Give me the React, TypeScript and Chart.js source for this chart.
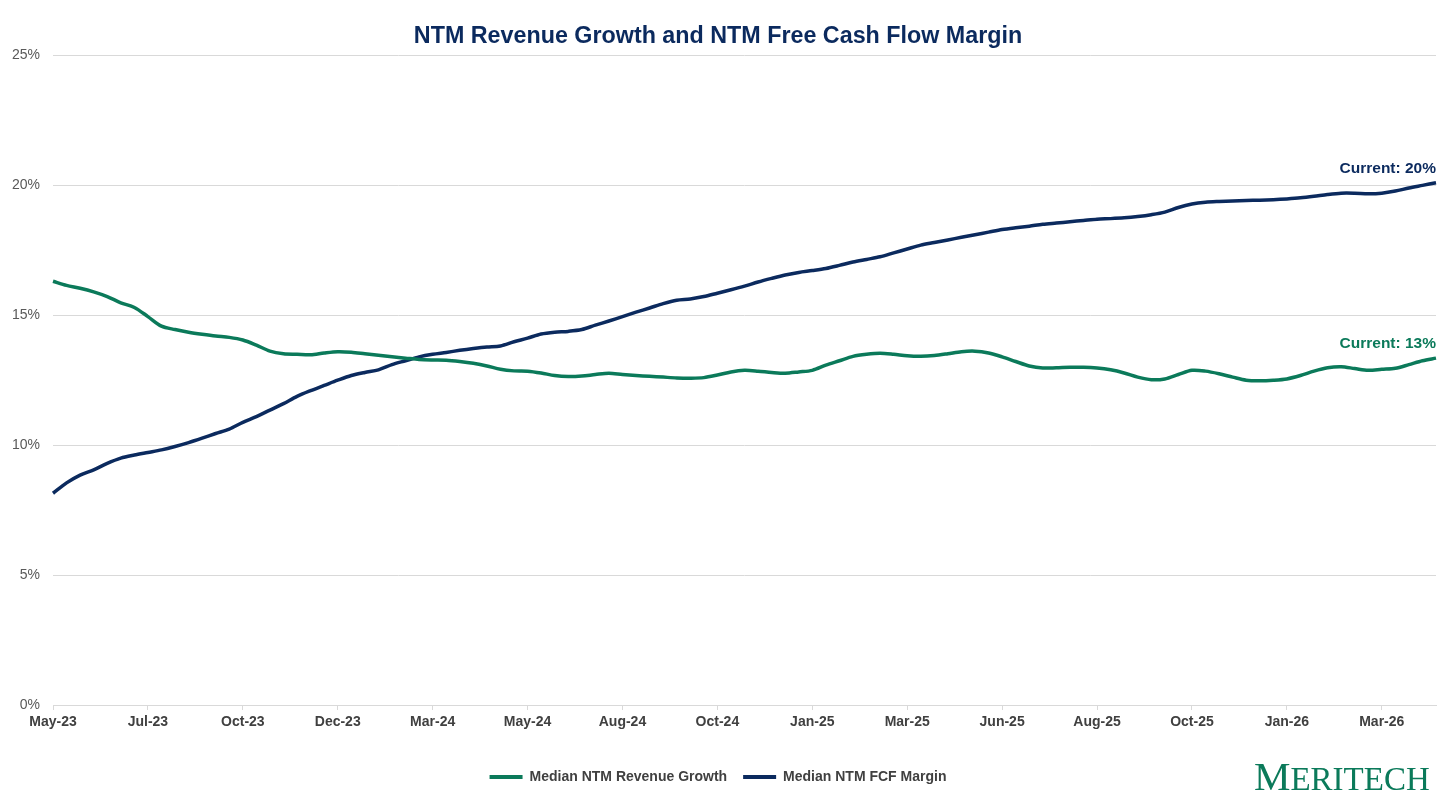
import React, { useEffect, useRef } from 'react';
import { Chart, registerables } from 'chart.js';

Chart.register(...registerables);

// x axis: one label every 7 points
const tickLabels = [
  'May-23', 'Jul-23', 'Oct-23', 'Dec-23', 'Mar-24', 'May-24', 'Aug-24', 'Oct-24',
  'Jan-25', 'Mar-25', 'Jun-25', 'Aug-25', 'Oct-25', 'Jan-26', 'Mar-26',
];
const pointsPerTick = 7;

const revenueGrowth = [
  16.31, 16.15, 16.04, 15.9, 15.72, 15.48, 15.3, 14.95, 14.58, 14.45,
  14.35, 14.27, 14.2, 14.15, 14.05, 13.85, 13.62, 13.52, 13.5, 13.48,
  13.55, 13.6, 13.58, 13.52, 13.46, 13.4, 13.35, 13.3, 13.28, 13.27,
  13.22, 13.15, 13.05, 12.92, 12.86, 12.85, 12.78, 12.68, 12.64, 12.66,
  12.72, 12.77, 12.72, 12.68, 12.65, 12.62, 12.59, 12.58, 12.6, 12.7,
  12.82, 12.88, 12.85, 12.8, 12.77, 12.82, 12.88, 13.08, 13.25, 13.42,
  13.5, 13.54, 13.5, 13.44, 13.42, 13.45, 13.52, 13.6, 13.62, 13.55,
  13.4, 13.22, 13.05, 12.97, 12.98, 13.0, 13.0, 12.97, 12.9, 12.78,
  12.62, 12.52, 12.55, 12.72, 12.88, 12.85, 12.75, 12.62, 12.5, 12.48,
  12.5, 12.55, 12.68, 12.85, 12.98, 13.02, 12.95, 12.88, 12.92, 12.96,
  13.1, 13.25, 13.35,
];

const fcfMargin = [
  8.15, 8.55, 8.85, 9.05, 9.3, 9.5, 9.62, 9.72, 9.82, 9.95,
  10.1, 10.27, 10.45, 10.62, 10.88, 11.1, 11.35, 11.6, 11.88, 12.1,
  12.3, 12.5, 12.68, 12.8, 12.9, 13.1, 13.25, 13.4, 13.5, 13.57,
  13.65, 13.72, 13.78, 13.82, 13.98, 14.12, 14.28, 14.35, 14.38, 14.45,
  14.62, 14.78, 14.95, 15.12, 15.28, 15.45, 15.58, 15.63, 15.72, 15.85,
  15.98, 16.12, 16.28, 16.42, 16.55, 16.65, 16.72, 16.8, 16.92, 17.05,
  17.15, 17.25, 17.4, 17.55, 17.7, 17.8, 17.9, 18.0, 18.1, 18.2,
  18.3, 18.37, 18.43, 18.5, 18.55, 18.6, 18.65, 18.7, 18.72, 18.75,
  18.8, 18.87, 18.97, 19.15, 19.28, 19.35, 19.38, 19.4, 19.42, 19.43,
  19.45, 19.48, 19.52, 19.58, 19.65, 19.7, 19.7, 19.68, 19.7, 19.78,
  19.9, 20.0, 20.1,
];

const categories = fcfMargin.map((_, i) =>
  i % pointsPerTick === 0 ? tickLabels[i / pointsPerTick] : ''
);

const GREEN = '#0b7a5a';
const NAVY = '#0b2a5e';
const FONT = '"Liberation Sans", Arial, sans-serif';

// "Current: xx%" labels at the end of each line, plus the logo
const annotations = {
  id: 'annotations',
  afterDatasetsDraw(chart: any) {
    const { ctx, chartArea } = chart;
    chart.data.datasets.forEach((ds: any, i: number) => {
      const pts = chart.getDatasetMeta(i).data;
      const last = pts[pts.length - 1];
      const value = ds.data[ds.data.length - 1];
      ctx.save();
      ctx.font = `bold 15.5px ${FONT}`;
      ctx.fillStyle = ds.borderColor;
      ctx.textAlign = 'right';
      ctx.textBaseline = 'middle';
      ctx.fillText(`Current: ${Math.round(value)}%`, chartArea.right, last.y - 14);
      ctx.restore();
    });
  },
  afterDraw(chart: any) {
    const { ctx } = chart;
    ctx.save();
    ctx.fillStyle = GREEN;
    ctx.textBaseline = 'alphabetic';
    ctx.textAlign = 'left';
    ctx.font = '41px "Liberation Serif", "DejaVu Serif", serif';
    ctx.fillText('M', 1254, 790);
    const w = ctx.measureText('M').width;
    ctx.font = '33px "Liberation Serif", "DejaVu Serif", serif';
    ctx.fillText('ERITECH', 1254 + w, 790);
    ctx.restore();
  },
};

export default function App() {
  const canvasRef = useRef<HTMLCanvasElement>(null);

  useEffect(() => {
    const ctx = canvasRef.current?.getContext('2d');
    if (!ctx) return;
    const chart = new Chart(ctx, {
      type: 'line',
      data: {
        labels: categories,
        datasets: [
          {
            label: 'Median NTM Revenue Growth',
            data: revenueGrowth,
            borderColor: GREEN,
            backgroundColor: GREEN,
            borderWidth: 3.5,
            pointRadius: 0,
            tension: 0.3,
          },
          {
            label: 'Median NTM FCF Margin',
            data: fcfMargin,
            borderColor: NAVY,
            backgroundColor: NAVY,
            borderWidth: 3.5,
            pointRadius: 0,
            tension: 0.3,
          },
        ],
      },
      options: {
        animation: false,
        responsive: true,
        maintainAspectRatio: false,
        layout: { padding: { left: 0, right: 20, top: 0, bottom: 5 } },
        plugins: {
          title: {
            display: true,
            text: 'NTM Revenue Growth and NTM Free Cash Flow Margin',
            color: NAVY,
            font: { family: FONT, size: 23.3, weight: 'bold' },
            padding: { top: 23, bottom: 4.5 },
          },
          legend: {
            position: 'bottom',
            labels: {
              boxWidth: 33,
              boxHeight: 4,
              padding: 16,
              color: '#404040',
              font: { family: FONT, size: 14, weight: 'bold' },
              generateLabels: (c: any) =>
                Chart.defaults.plugins.legend.labels
                  .generateLabels(c)
                  .map((l: any) => ({ ...l, lineWidth: 0 })),
            },
          },
          tooltip: { enabled: false },
        },
        scales: {
          x: {
            grid: { drawOnChartArea: false, drawTicks: true, tickLength: 5, color: '#d9d9d9' },
            border: { color: '#d9d9d9' },
            ticks: {
              autoSkip: false,
              maxRotation: 0,
              padding: 4,
              color: '#404040',
              font: { family: FONT, size: 14, weight: 'bold' },
              callback: (_v: any, i: number) =>
                i % pointsPerTick === 0 ? tickLabels[i / pointsPerTick] : null,
            },
            afterFit: (s: any) => {
              s.height = 49;
            },
          },
          y: {
            min: 0,
            max: 25,
            grid: { color: '#d9d9d9', drawTicks: false },
            border: { display: false },
            ticks: {
              stepSize: 5,
              padding: 13,
              color: '#595959',
              font: { family: FONT, size: 14 },
              callback: (v: any) => `${v}%`,
            },
            afterFit: (s: any) => {
              s.width = 53;
            },
          },
        },
      },
      plugins: [annotations],
    });
    return () => chart.destroy();
  }, []);

  return (
    <div style={{ position: 'fixed', left: 0, top: 0, width: 1456, height: 799, background: '#fff' }}>
      <canvas ref={canvasRef}></canvas>
    </div>
  );
}
